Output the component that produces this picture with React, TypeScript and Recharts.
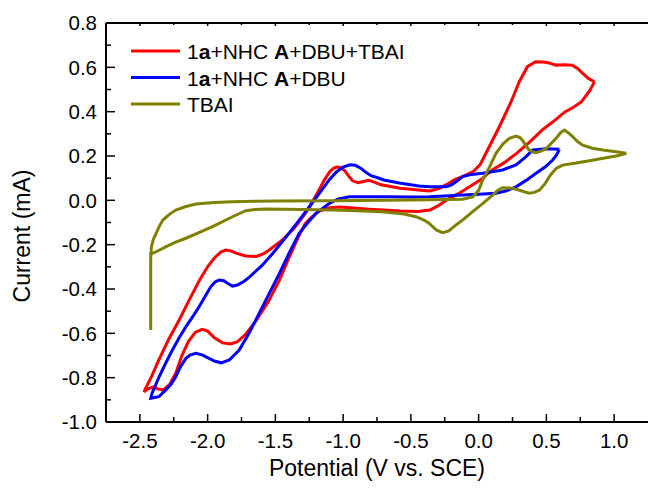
import { LineChart, Line, XAxis, YAxis, Legend } from "recharts";

// cyclic voltammograms, [potential (V), current (mA)] in sweep order
const redCurve: [number, number][] = [
  [0.855, 0.535], [0.82, 0.495], [0.76, 0.445], [0.7, 0.42], [0.64, 0.4],
  [0.55, 0.355], [0.47, 0.318], [0.38, 0.265], [0.28, 0.212], [0.19, 0.17],
  [0.1, 0.137], [0.02, 0.095], [-0.07, 0.06], [-0.15, 0.03], [-0.24, 0.0],
  [-0.3, -0.025], [-0.36, -0.044], [-0.45, -0.05], [-0.58, -0.048], [-0.7, -0.044],
  [-0.81, -0.04], [-0.92, -0.035], [-1.03, -0.03], [-1.11, -0.035], [-1.18, -0.05],
  [-1.24, -0.08], [-1.28, -0.105], [-1.33, -0.165], [-1.4, -0.26], [-1.47, -0.36],
  [-1.55, -0.455], [-1.64, -0.54], [-1.72, -0.605], [-1.78, -0.638], [-1.83, -0.648],
  [-1.89, -0.643], [-1.95, -0.62], [-2.0, -0.59], [-2.04, -0.582], [-2.09, -0.595],
  [-2.14, -0.635], [-2.19, -0.7], [-2.235, -0.78], [-2.28, -0.83], [-2.33, -0.856],
  [-2.37, -0.85], [-2.4, -0.842], [-2.44, -0.85], [-2.47, -0.864],
  [-2.455, -0.845], [-2.41, -0.79], [-2.36, -0.72], [-2.29, -0.63], [-2.21, -0.54],
  [-2.14, -0.455], [-2.06, -0.36], [-2.0, -0.3], [-1.95, -0.26], [-1.9, -0.232],
  [-1.866, -0.224], [-1.83, -0.228], [-1.79, -0.238], [-1.72, -0.251], [-1.64, -0.253],
  [-1.59, -0.242], [-1.55, -0.226], [-1.45, -0.18], [-1.36, -0.125], [-1.28, -0.06],
  [-1.22, 0.0], [-1.18, 0.045], [-1.14, 0.09], [-1.1, 0.128], [-1.07, 0.145],
  [-1.05, 0.15], [-1.02, 0.148], [-0.99, 0.135], [-0.96, 0.11], [-0.93, 0.088],
  [-0.89, 0.08], [-0.85, 0.085], [-0.81, 0.09], [-0.77, 0.082], [-0.72, 0.07],
  [-0.65, 0.062], [-0.58, 0.055], [-0.5, 0.05], [-0.43, 0.046], [-0.36, 0.042],
  [-0.29, 0.054], [-0.22, 0.077], [-0.18, 0.092], [-0.12, 0.107], [-0.04, 0.13],
  [0.01, 0.16], [0.066, 0.227], [0.153, 0.332], [0.24, 0.445], [0.3, 0.535],
  [0.36, 0.603], [0.42, 0.625], [0.48, 0.624], [0.52, 0.62], [0.57, 0.61],
  [0.63, 0.612], [0.69, 0.61], [0.73, 0.595], [0.77, 0.572], [0.81, 0.55],
  [0.855, 0.535],
];

const blueCurve: [number, number][] = [
  [0.596, 0.23], [0.575, 0.205], [0.547, 0.182], [0.49, 0.15], [0.424, 0.122],
  [0.35, 0.09], [0.276, 0.061], [0.2, 0.042], [0.128, 0.032], [0.0, 0.027],
  [-0.118, 0.024], [-0.25, 0.02], [-0.364, 0.016], [-0.5, 0.015], [-0.66, 0.016],
  [-0.8, 0.016], [-0.955, 0.016], [-1.04, 0.005], [-1.103, -0.014], [-1.15, -0.035],
  [-1.2, -0.059], [-1.26, -0.1], [-1.324, -0.149], [-1.4, -0.24], [-1.47, -0.33],
  [-1.545, -0.42], [-1.62, -0.51], [-1.69, -0.595], [-1.767, -0.675], [-1.84, -0.72],
  [-1.9, -0.733], [-1.95, -0.725], [-1.99, -0.713], [-2.04, -0.697], [-2.087, -0.69],
  [-2.13, -0.698], [-2.16, -0.713], [-2.2, -0.75], [-2.235, -0.796], [-2.27, -0.83],
  [-2.31, -0.856], [-2.36, -0.886], [-2.42, -0.893],
  [-2.41, -0.87], [-2.385, -0.835], [-2.358, -0.796], [-2.31, -0.735], [-2.26, -0.675],
  [-2.21, -0.62], [-2.16, -0.57], [-2.11, -0.525], [-2.063, -0.48], [-2.02, -0.435],
  [-1.977, -0.39], [-1.945, -0.368], [-1.915, -0.36], [-1.88, -0.363], [-1.85, -0.375],
  [-1.817, -0.387], [-1.78, -0.382], [-1.73, -0.365], [-1.69, -0.345], [-1.6, -0.295],
  [-1.52, -0.24], [-1.42, -0.165], [-1.324, -0.089], [-1.25, -0.03], [-1.177, 0.03],
  [-1.103, 0.092], [-1.05, 0.128], [-1.0, 0.15], [-0.95, 0.16], [-0.91, 0.158],
  [-0.87, 0.145], [-0.83, 0.125], [-0.79, 0.11], [-0.75, 0.103], [-0.7, 0.092],
  [-0.585, 0.078], [-0.44, 0.065], [-0.364, 0.061], [-0.24, 0.061], [-0.2, 0.07],
  [-0.167, 0.084], [-0.118, 0.107], [-0.05, 0.117], [0.03, 0.122], [0.177, 0.137],
  [0.276, 0.16], [0.35, 0.197], [0.4, 0.227], [0.5, 0.233], [0.596, 0.23],
];

const tbaiCurve: [number, number][] = [
  [-2.42, -0.585], [-2.42, -0.4], [-2.42, -0.26], [-2.415, -0.21], [-2.4, -0.175],
  [-2.38, -0.149], [-2.355, -0.115], [-2.33, -0.089], [-2.28, -0.062], [-2.235, -0.044],
  [-2.16, -0.028], [-2.087, -0.017], [-1.95, -0.01], [-1.817, -0.006], [-1.5, -0.003],
  [-1.078, -0.002], [-0.7, 0.0], [-0.364, 0.003], [-0.118, 0.005], [-0.044, 0.016],
  [0.0, 0.045], [0.03, 0.092], [0.08, 0.15], [0.128, 0.212], [0.18, 0.255],
  [0.227, 0.28], [0.276, 0.29], [0.305, 0.283], [0.325, 0.27], [0.35, 0.245],
  [0.374, 0.227], [0.4, 0.218], [0.424, 0.215], [0.46, 0.222], [0.5, 0.234],
  [0.54, 0.26], [0.572, 0.28], [0.605, 0.305], [0.633, 0.317], [0.66, 0.305],
  [0.694, 0.287], [0.73, 0.265], [0.768, 0.249], [0.84, 0.235], [0.916, 0.227],
  [1.0, 0.22], [1.089, 0.212],
  [1.05, 0.205], [1.015, 0.2], [0.92, 0.19], [0.818, 0.179], [0.72, 0.168],
  [0.62, 0.159], [0.572, 0.144], [0.545, 0.125], [0.522, 0.107], [0.49, 0.075],
  [0.448, 0.046], [0.41, 0.036], [0.374, 0.032], [0.33, 0.04], [0.28, 0.05],
  [0.23, 0.056], [0.177, 0.057], [0.14, 0.045], [0.103, 0.024], [0.03, -0.015],
  [-0.044, -0.051], [-0.11, -0.085], [-0.167, -0.111], [-0.22, -0.138], [-0.266, -0.146],
  [-0.31, -0.135], [-0.339, -0.119], [-0.364, -0.104], [-0.4, -0.09], [-0.462, -0.074],
  [-0.55, -0.062], [-0.71, -0.051], [-0.9, -0.047], [-1.078, -0.044], [-1.3, -0.041],
  [-1.57, -0.039], [-1.65, -0.041], [-1.718, -0.047], [-1.817, -0.074], [-1.964, -0.119],
  [-2.06, -0.145], [-2.16, -0.171], [-2.24, -0.19], [-2.31, -0.21], [-2.38, -0.232],
  [-2.43, -0.245],
];

const xTicks = [-2.5, -2.25, -2.0, -1.75, -1.5, -1.25, -1.0, -0.75, -0.5, -0.25, 0.0, 0.25, 0.5, 0.75, 1.0];
const xLabels = [-2.5, -2.0, -1.5, -1.0, -0.5, 0.0, 0.5, 1.0];
const yTicks = [0.8, 0.7, 0.6, 0.5, 0.4, 0.3, 0.2, 0.1, 0.0, -0.1, -0.2, -0.3, -0.4, -0.5, -0.6, -0.7, -0.8, -0.9, -1.0];
const yLabels = [0.8, 0.6, 0.4, 0.2, 0.0, -0.2, -0.4, -0.6, -0.8, -1.0];

const FONT = "'Liberation Sans', Arial, sans-serif";
const M = 10; // tick margin, used to find the axis line back inside the custom ticks

const toPoints = (c: [number, number][]) => c.map(([v, i]) => ({ v, i }));

const fmt = (n: number) => (Math.abs(n) < 1e-9 ? "0.0" : n.toFixed(1));

function BottomTick(props: any) {
  const { x, y, payload } = props;
  const major = xLabels.includes(payload.value);
  const ay = y - M;
  return (
    <g>
      <line x1={x} x2={x} y1={ay} y2={ay - (major ? 8 : 5)} stroke="#000" strokeWidth={1.5} />
      {major && (
        <text x={x} y={ay + 26} textAnchor="middle" fontSize={20.5} fontFamily={FONT} fill="#000">
          {fmt(payload.value)}
        </text>
      )}
    </g>
  );
}

function TopTick(props: any) {
  const { x, y, payload } = props;
  const major = xLabels.includes(payload.value);
  const ay = y + M;
  return <line x1={x} x2={x} y1={ay} y2={ay + (major ? 3 : 2)} stroke="#000" strokeWidth={1.5} />;
}

function LeftTick(props: any) {
  const { x, y, payload } = props;
  const major = yLabels.includes(payload.value);
  const ax = x + M;
  return (
    <g>
      <line x1={ax} x2={ax + (major ? 9 : 5)} y1={y} y2={y} stroke="#000" strokeWidth={1.5} />
      {major && (
        <text x={ax - 9} y={y} dy="0.36em" textAnchor="end" fontSize={20.5} fontFamily={FONT} fill="#000">
          {fmt(payload.value)}
        </text>
      )}
    </g>
  );
}

function LegendBox() {
  const rows = [
    { color: "#ff0000", text: <>1<tspan fontWeight="bold">a</tspan>{"+NHC "}<tspan fontWeight="bold">A</tspan>{"+DBU+TBAI"}</> },
    { color: "#0000ff", text: <>1<tspan fontWeight="bold">a</tspan>{"+NHC "}<tspan fontWeight="bold">A</tspan>{"+DBU"}</> },
    { color: "#808000", text: <>TBAI</> },
  ];
  return (
    <svg width={320} height={90}>
      {rows.map((r, k) => (
        <g key={k}>
          <line x1={11} x2={60} y1={21 + k * 26.5} y2={21 + k * 26.5} stroke={r.color} strokeWidth={3} />
          <text x={67} y={29 + k * 26.5} fontSize={21} fontFamily={FONT} fill="#000">
            {r.text}
          </text>
        </g>
      ))}
    </svg>
  );
}

export default function App() {
  return (
    <div style={{ position: "absolute", left: 0, top: 0, width: 648, height: 489, background: "#fff" }}>
      <LineChart width={648} height={489} margin={{ top: 0, right: 0, bottom: 0, left: 0 }} style={{ fontFamily: FONT }}>
        <XAxis
          dataKey="v"
          type="number"
          domain={[-2.75, 1.25]}
          allowDataOverflow
          ticks={xTicks}
          interval={0}
          tickSize={0}
          tickMargin={M}
          tickLine={false}
          tick={BottomTick}
          axisLine={{ stroke: "#000", strokeWidth: 2 }}
          height={67}
          label={{ value: "Potential (V vs. SCE)", position: "insideBottom", offset: 13, style: { fontSize: 23, fill: "#000", fontFamily: FONT } }}
        />
        <XAxis
          xAxisId="top"
          orientation="top"
          dataKey="v"
          type="number"
          domain={[-2.75, 1.25]}
          allowDataOverflow
          ticks={xTicks}
          interval={0}
          tickSize={0}
          tickMargin={M}
          tickLine={false}
          tick={TopTick}
          axisLine={{ stroke: "#000", strokeWidth: 2 }}
          height={23}
        />
        <YAxis
          dataKey="i"
          type="number"
          domain={[-1.0, 0.8]}
          allowDataOverflow
          ticks={yTicks}
          interval={0}
          tickSize={0}
          tickMargin={M}
          tickLine={false}
          tick={LeftTick}
          axisLine={{ stroke: "#000", strokeWidth: 2 }}
          width={106}
          label={{
            content: () => (
              <text x={30} y={236} transform="rotate(-90 30 236)" textAnchor="middle" fontSize={23} fontFamily={FONT} fill="#000">
                Current (mA)
              </text>
            ),
          }}
        />
        <Legend
          layout="vertical"
          align="center"
          verticalAlign="middle"
          wrapperStyle={{ left: 120, top: 30, width: 320, height: 90 }}
          content={() => <LegendBox />}
        />
        <Line data={toPoints(redCurve)} dataKey="i" type="linear" stroke="#ff0000" strokeWidth={3} dot={false} isAnimationActive={false} />
        <Line data={toPoints(blueCurve)} dataKey="i" type="linear" stroke="#0000ff" strokeWidth={3} dot={false} isAnimationActive={false} />
        <Line data={toPoints(tbaiCurve)} dataKey="i" type="linear" stroke="#808000" strokeWidth={3} dot={false} isAnimationActive={false} />
      </LineChart>
    </div>
  );
}
